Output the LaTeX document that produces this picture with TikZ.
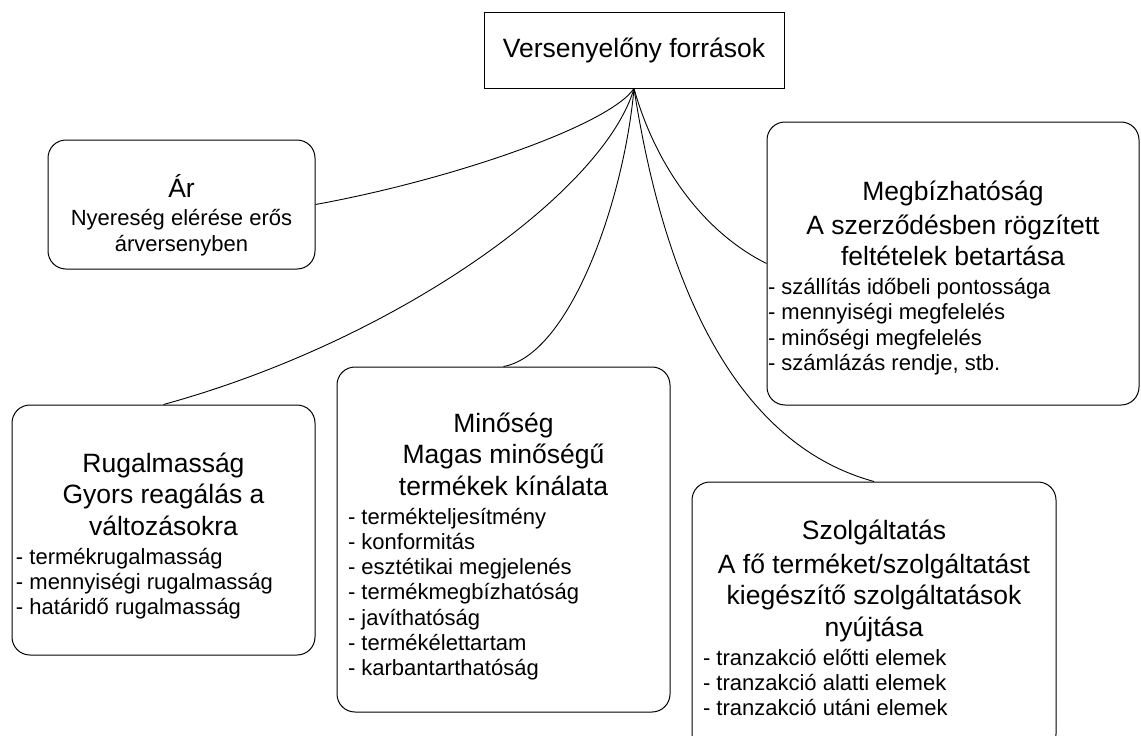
\documentclass[tikz,border=0pt]{standalone}
\usepackage{fontspec}
\setmainfont{Liberation Sans}
% fixed word spacing so every line keeps the font's natural gaps
\newcommand\titlefont{\fontsize{26.5}{31.5}\selectfont\spaceskip=.278em\relax}
\newcommand\itemfont{\fontsize{22}{25.2}\selectfont\spaceskip=.278em\relax}
\newcommand\notefont{\fontsize{22}{26}\selectfont\spaceskip=.278em\relax}
\tikzset{
  x=1pt, y=-1pt,
  frame/.style={draw, line width=1pt, inner sep=0pt},
  card/.style={frame, rounded corners=18pt},
  cardtext/.style={inner sep=0pt, align=left, anchor=base},
  link/.style={draw, line width=0.9pt},
}
\begin{document}
\begin{tikzpicture}
\useasboundingbox (0,0) rectangle (1141,736);

% root
\node[frame, minimum width=300pt, minimum height=76pt, font=\titlefont]
  (root) at (634,50) {Versenyelőny források};

% boxes
\node[card, minimum width=267pt, minimum height=129pt] (ar)  at (181.5,204.5) {};
\node[card, minimum width=303pt, minimum height=250pt] (rug) at (163.5,530) {};
\node[card, minimum width=333pt, minimum height=345pt] (min) at (503.5,539.5) {};
\node[card, minimum width=372pt, minimum height=283pt] (meg) at (953,263.5) {};
% lower edge of this one runs past the page
\node[card, minimum width=364pt, minimum height=270pt] (szo) at (874,617) {};

% box texts
\node[cardtext, text width=260pt] (artext) at ([yshift=-57.5pt]ar.north)
  {\centering\titlefont Ár\par\vspace{2pt}\notefont
   Nyereség elérése erős\\ árversenyben\par};

\node[cardtext, text width=295pt] (rugtext) at ([yshift=-67.5pt]rug.north)
  {\centering\titlefont Rugalmasság\\ Gyors reagálás a\\ változásokra\par
   \vspace{4pt}\raggedright\itemfont
   - termékrugalmasság\\
   - mennyiségi rugalmasság\\
   - határidő rugalmasság\par};

\node[cardtext, text width=311pt] (mintext) at ([yshift=-65.5pt]min.north)
  {\centering\titlefont Minőség\\ Magas minőségű\\ termékek kínálata\par
   \vspace{4pt}\raggedright\itemfont
   - termékteljesítmény\\
   - konformitás\\
   - esztétikai megjelenés\\
   - termékmegbízhatóság\\
   - javíthatóság\\
   - termékélettartam\\
   - karbantarthatóság\par};

\node[cardtext, text width=370pt] (megtext) at ([yshift=-79pt]meg.north)
  {\centering\titlefont Megbízhatóság\par\vspace{2pt}
   A szerződésben rögzített\\ feltételek betartása\par
   \vspace{4pt}\raggedright\itemfont
   - szállítás időbeli pontossága\\
   - mennyiségi megfelelés\\
   - minőségi megfelelés\\
   - számlázás rendje, stb.\par};

\node[cardtext, text width=342pt] (szotext) at ([yshift=-58pt]szo.north)
  {\centering\titlefont Szolgáltatás\par\vspace{2pt}
   A fő terméket/szolgáltatást\\ kiegészítő szolgáltatások\\ nyújtása\par
   \vspace{4pt}\raggedright\itemfont
   - tranzakció előtti elemek\\
   - tranzakció alatti elemek\\
   - tranzakció utáni elemek\par};

% curved links fanning out from the root
\path[link] (root.south) .. controls +(-25,37) and +(135,-24.5) .. (ar.east);
\path[link] (root.south) .. controls +(-30,102) and +(236.5,-65) .. (rug.north);
\path[link] (root.south) .. controls +(-10,112) and +(66.5,-12) .. (min.north);
\path[link] (root.south) .. controls +(20,72) and +(-67,-33.5) .. (meg.west);
\path[link] (root.south) .. controls +(25,162) and +(-154,-42) .. (szo.north);
\end{tikzpicture}
\end{document}
